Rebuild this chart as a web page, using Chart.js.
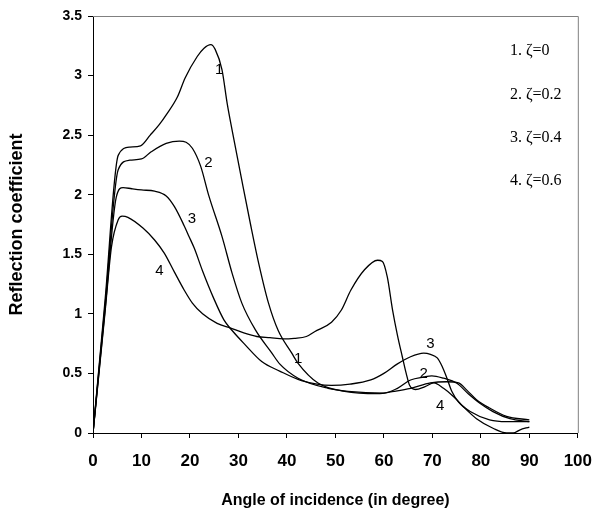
<!DOCTYPE html>
<html>
<head>
<meta charset="utf-8">
<script src="https://cdn.jsdelivr.net/npm/chart.js@4.4.0/dist/chart.umd.min.js"></script>
<style>
  html, body { margin: 0; padding: 0; background: #fff; }
  #wrap { width: 605px; height: 515px; }
</style>
</head>
<body>
<div id="wrap"><canvas id="chart" width="605" height="515"></canvas></div>
<script>
// angles (deg) and reflection coefficient
const angle1 = [0, 2.5, 5.2, 7.6, 9.8, 11.8, 13.7, 15.1, 17.4, 19, 21.5, 22.9, 24.3, 25.2, 26.6, 27.7, 28.7, 30.7, 32.5, 34.2, 36.2, 38.2, 41, 42.3, 46.4, 51.9, 58.7, 62.1, 65.5, 69.6, 73, 75.4, 77.1, 79.1, 81.8, 85.3, 90];
const refl1  = [0, 1.12, 2.33, 2.40, 2.41, 2.50, 2.59, 2.67, 2.82, 2.98, 3.16, 3.23, 3.26, 3.22, 3.05, 2.76, 2.54, 2.12, 1.75, 1.42, 1.09, 0.86, 0.67, 0.585, 0.42, 0.35, 0.33, 0.35, 0.375, 0.42, 0.43, 0.42, 0.36, 0.28, 0.21, 0.14, 0.11];

const angle2 = [0, 2.5, 5.2, 7.6, 10, 12, 15.1, 17.8, 19.2, 20.5, 22.2, 23.9, 26.6, 28.7, 30.7, 33.5, 36.9, 38.5, 42.3, 48.5, 52.6, 60, 62.8, 65.5, 68.2, 69.9, 72.3, 75, 77.4, 79.8, 82.5, 86, 90];
const refl2  = [0, 1.08, 2.21, 2.29, 2.30, 2.36, 2.43, 2.45, 2.44, 2.39, 2.24, 1.99, 1.65, 1.34, 1.09, 0.865, 0.67, 0.58, 0.46, 0.375, 0.35, 0.335, 0.375, 0.445, 0.47, 0.48, 0.46, 0.42, 0.33, 0.25, 0.18, 0.12, 0.095];

const angle3 = [0, 2.5, 4.8, 6.2, 8, 10, 12.7, 15.1, 16.8, 18.8, 19.8, 20.9, 22.6, 24.9, 27, 28.7, 31.4, 34.8, 38.5, 43, 49.2, 53, 57.3, 60, 62.8, 65.5, 68.2, 69.6, 71, 72, 73, 74, 75.4, 77.8, 81.8, 85.3, 90];
const refl3  = [0, 1.04, 1.98, 2.06, 2.05, 2.04, 2.03, 1.99, 1.90, 1.74, 1.65, 1.55, 1.36, 1.13, 0.95, 0.86, 0.74, 0.60, 0.52, 0.44, 0.40, 0.41, 0.445, 0.50, 0.58, 0.64, 0.67, 0.66, 0.63, 0.56, 0.46, 0.35, 0.26, 0.18, 0.11, 0.095, 0.095];

const angle4 = [0, 2.5, 3.8, 5.2, 6, 7.2, 10.3, 12.7, 14.7, 16.8, 18.8, 20.5, 22.6, 25.6, 28.4, 31.1, 33.8, 36.5, 39.3, 41.5, 44, 45.7, 49.2, 51.2, 53.2, 56, 58.7, 59.7, 60.7, 61.8, 62.8, 63.8, 64.6, 65.3, 66.5, 68.5, 70.3, 72.3, 74.4, 76.4, 79.1, 82.5, 85.3, 86.7, 88, 90];
const refl4  = [0, 1.02, 1.56, 1.79, 1.82, 1.81, 1.72, 1.62, 1.51, 1.35, 1.20, 1.09, 1.00, 0.92, 0.88, 0.84, 0.81, 0.80, 0.79, 0.795, 0.81, 0.85, 0.93, 1.03, 1.20, 1.37, 1.45, 1.44, 1.31, 1.03, 0.82, 0.64, 0.50, 0.40, 0.365, 0.39, 0.42, 0.375, 0.305, 0.22, 0.12, 0.04, 0.0, 0.0, 0.025, 0.05];

const xTicks = [0, 10, 20, 30, 40, 50, 60, 70, 80, 90, 100];
const yTicks = [0, 0.5, 1, 1.5, 2, 2.5, 3, 3.5];

// numbers written next to the curves
const curveLabels = ['1', '2', '3', '4', '1', '3', '2', '4'];
const curveLabelX = [26, 23.8, 20.4, 13.7, 42.3, 69.6, 68.2, 71.6];
const curveLabelY = [3.05, 2.27, 1.80, 1.36, 0.62, 0.75, 0.50, 0.23];

// key in the upper right
const keyText = ['1. \u03B6=0', '2. \u03B6=0.2', '3. \u03B6=0.4', '4. \u03B6=0.6'];
const keyX = 86;
const keyY = [3.21, 2.84, 2.48, 2.12];

const sans = "'Liberation Sans', Arial, sans-serif";

function toPoints(xs, ys) {
  return xs.map((x, i) => ({ x: x, y: ys[i] }));
}

function lineSet(xs, ys) {
  return {
    data: toPoints(xs, ys),
    borderColor: '#000',
    borderWidth: 1.3,
    pointRadius: 0,
    fill: false,
    cubicInterpolationMode: 'monotone'
  };
}

const annotate = {
  id: 'annotate',
  beforeDatasetsDraw(chart) {
    const { ctx, chartArea: a } = chart;
    ctx.save();
    ctx.strokeStyle = '#808080';
    ctx.lineWidth = 1;
    ctx.beginPath();
    ctx.moveTo(a.left, a.top + 0.5);
    ctx.lineTo(a.right + 0.5, a.top + 0.5);
    ctx.lineTo(a.right + 0.5, a.bottom);
    ctx.stroke();
    ctx.restore();
  },
  afterDatasetsDraw(chart) {
    const { ctx, scales: { x, y } } = chart;
    ctx.save();
    ctx.fillStyle = '#000';
    ctx.textAlign = 'center';
    ctx.textBaseline = 'middle';
    ctx.font = '15px ' + sans;
    curveLabels.forEach((t, i) => {
      ctx.fillText(t, x.getPixelForValue(curveLabelX[i]), y.getPixelForValue(curveLabelY[i]));
    });
    ctx.textAlign = 'left';
    ctx.font = "16px 'Liberation Serif', 'Times New Roman', serif";
    keyText.forEach((t, i) => {
      ctx.fillText(t, x.getPixelForValue(keyX), y.getPixelForValue(keyY[i]));
    });
    ctx.restore();
  }
};

new Chart(document.getElementById('chart'), {
  type: 'line',
  data: {
    datasets: [
      lineSet(angle1, refl1),
      lineSet(angle2, refl2),
      lineSet(angle3, refl3),
      lineSet(angle4, refl4)
    ]
  },
  options: {
    responsive: false,
    animation: false,
    layout: { padding: { top: 16, right: 23, left: 0, bottom: 0 } },
    plugins: { legend: { display: false }, tooltip: { enabled: false } },
    scales: {
      x: {
        type: 'linear',
        min: 0,
        max: 100,
        afterBuildTicks: s => { s.ticks = xTicks.map(v => ({ value: v })); },
        afterFit: s => { s.height = 82; },
        ticks: { color: '#000', padding: 13, callback: v => String(v), font: { family: sans, size: 17, weight: 'bold' } },
        grid: { drawOnChartArea: false, drawTicks: true, tickLength: 5, color: '#000' },
        border: { display: true, color: '#000', width: 1 },
        title: {
          display: true,
          text: 'Angle of incidence (in degree)',
          color: '#000',
          padding: { top: 0, bottom: 5 },
          font: { family: sans, size: 16, weight: 'bold' }
        }
      },
      y: {
        type: 'linear',
        min: 0,
        max: 3.5,
        afterBuildTicks: s => { s.ticks = yTicks.map(v => ({ value: v })); },
        afterFit: s => { s.width = 93; },
        ticks: { color: '#000', padding: 6, callback: v => String(v), font: { family: sans, size: 14, weight: 'bold' } },
        grid: { drawOnChartArea: false, drawTicks: true, tickLength: 5, color: '#000' },
        border: { display: true, color: '#000', width: 1 },
        title: {
          display: true,
          text: 'Reflection coefficient',
          color: '#000',
          padding: { top: 6, bottom: 0 },
          font: { family: sans, size: 18, weight: 'bold' }
        }
      }
    }
  },
  plugins: [annotate]
});
</script>
</body>
</html>
